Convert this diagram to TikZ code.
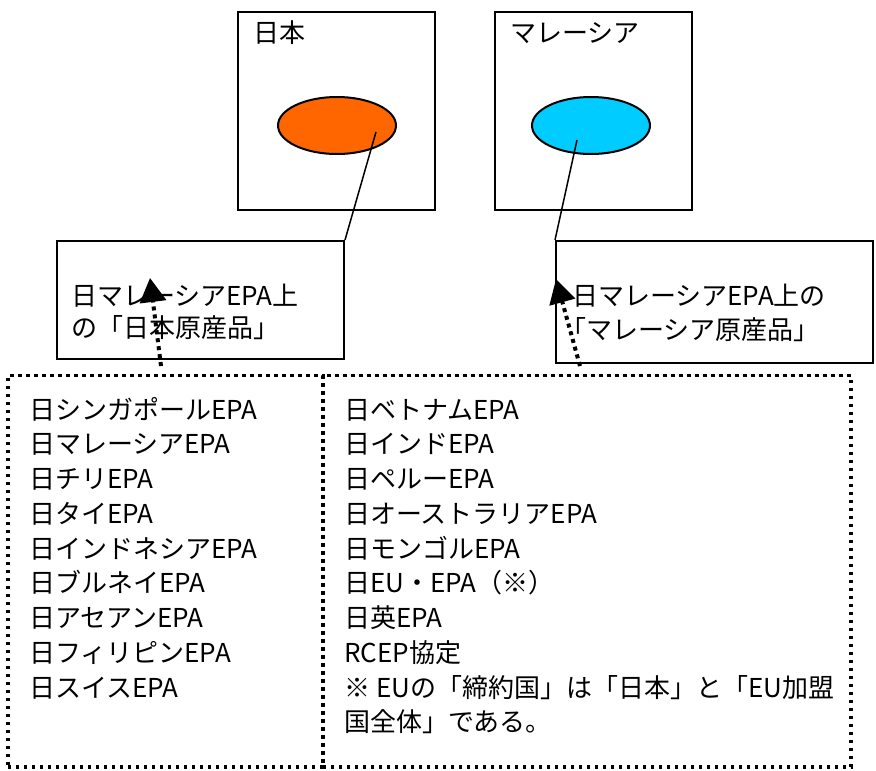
\documentclass[tikz,border=0pt]{standalone}
\usepackage{fontspec}
\setmainfont{Noto Sans CJK JP}
\usepackage{tikz}
\usetikzlibrary{arrows.meta,shapes.geometric}
\definecolor{jporange}{HTML}{FF6600}
\definecolor{mycyan}{HTML}{00CCFF}

\begin{document}
\begin{tikzpicture}[x=1pt, y=-1pt, font=\fontsize{26}{32}\selectfont,
        box/.style={draw, line width=2pt, inner sep=0pt},
        blob/.style={ellipse, draw, line width=2pt, minimum width=118pt, minimum height=57pt},
        listbox/.style={draw, line width=3.3pt, dash pattern=on 3.3pt off 4.7pt, inner sep=0pt},
        item/.style={anchor=base west, inner sep=0pt},
        pointer/.style={line width=4pt, dash pattern=on 4pt off 4pt, -{Triangle[width=26pt,length=24pt]}}]
        \useasboundingbox (0,0) rectangle (876,771);

        % Japan
        \node [box, minimum width=197pt, minimum height=198pt] (jpbox) at (336.5,111) {};
        \node [item] (jplabel) at (253,42) {日本};
        \node [blob, fill=jporange] (jpblob) at (337,125.5) {};

        % Malaysia
        \node [box, minimum width=197pt, minimum height=198pt] (mybox) at (593.5,111) {};
        \node [item] (mylabel) at (510,42) {マレーシア};
        \node [blob, fill=mycyan] (myblob) at (591,125.5) {};

        % Callouts
        \node [box, minimum width=287pt, minimum height=118pt] (jpcall) at (200.5,300) {};
        \node [item] (jpline1) at (71,305) {日マレーシアEPA上};
        \node [item] (jpline2) at (71,337) {の「日本原産品」};
        \node [box, minimum width=317pt, minimum height=122pt] (mycall) at (714.5,302) {};
        \node [item] (myline1) at (572,305) {日マレーシアEPA上の};
        \node [item] (myline2) at (560,339) {「マレーシア原産品」};

        \coordinate (jpin) at (376,132);
        \coordinate (myin) at (577,140);
        \draw [line width=1.5pt] (jpin) -- (jpcall.north east);
        \draw [line width=1.5pt] (myin) -- (mycall.north west);

        % Lists
        \node [listbox, minimum width=315pt, minimum height=391.5pt] (leftlist) at (165.5,571.25) {};
        \node [listbox, minimum width=528pt, minimum height=391.5pt] (rightlist) at (587,571.25) {};
        \foreach \t [count=\i] in {日シンガポールEPA, 日マレーシアEPA, 日チリEPA, 日タイEPA,
            日インドネシアEPA, 日ブルネイEPA, 日アセアンEPA, 日フィリピンEPA, 日スイスEPA}
            \node [item] (l\i) at (29,{419+34.75*(\i-1)}) {\t};
        \foreach \t [count=\i] in {日ベトナムEPA, 日インドEPA, 日ペルーEPA, 日オーストラリアEPA,
            日モンゴルEPA, 日EU・EPA（※）, 日英EPA, RCEP協定,
            ※ EUの「締約国」は「日本」と「EU加盟, 国全体」である。}
            \node [item] (r\i) at (344,{419+34.75*(\i-1)}) {\t};

        % Arrows
        \coordinate (jptail) at (161,366);
        \coordinate (jptip) at (150,278);
        \coordinate (mytail) at (580,366);
        \coordinate (mytip) at (556,279);
        \draw [pointer] (jptail) -- (jptip);
        \draw [pointer] (mytail) -- (mytip);
\end{tikzpicture}
\end{document}
